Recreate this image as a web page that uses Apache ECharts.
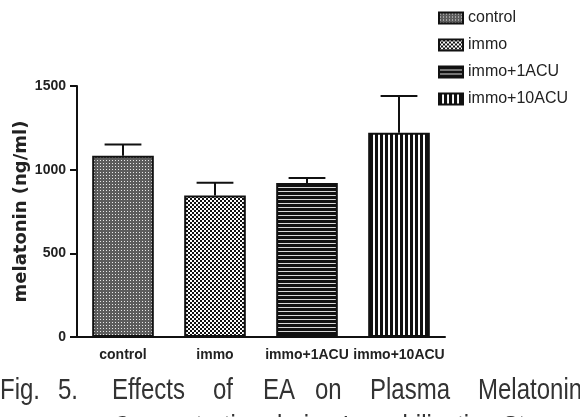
<!DOCTYPE html>
<html>
<head>
<meta charset="utf-8">
<script src="https://cdn.jsdelivr.net/npm/echarts@6/dist/echarts.min.js"></script>
<style>
  html, body { margin: 0; padding: 0; background: #fff; }
  #main { width: 580px; height: 417px; }
</style>
</head>
<body>
<div id="main"></div>
<script>
  // groups on the x axis
  const categories = ['control', 'immo', 'immo+1ACU', 'immo+10ACU'];
  // mean melatonin (ng/ml) and upper error (SEM)
  const meanValues = [1083, 845, 920, 1220];
  const errorValues = [67, 77, 30, 220];
  const yTicks = [0, 500, 1000, 1500];

  // fill patterns, drawn on small canvases
  function makePattern(size, draw) {
    const c = document.createElement('canvas');
    c.width = size[0];
    c.height = size[1];
    const ctx = c.getContext('2d');
    draw(ctx);
    return { image: c, repeat: 'repeat' };
  }
  const patterns = [
    // control: fine gray dots
    makePattern([3, 3], function (ctx) {
      ctx.fillStyle = '#5c5c5c';
      ctx.fillRect(0, 0, 3, 3);
      ctx.fillStyle = '#e8e8e8';
      ctx.fillRect(1, 1, 1, 1);
    }),
    // immo: checkerboard
    makePattern([4, 4], function (ctx) {
      ctx.fillStyle = '#fff';
      ctx.fillRect(0, 0, 4, 4);
      ctx.fillStyle = '#111';
      ctx.fillRect(0, 0, 2, 2);
      ctx.fillRect(2, 2, 2, 2);
    }),
    // immo+1ACU: horizontal lines
    makePattern([4, 4], function (ctx) {
      ctx.fillStyle = '#111';
      ctx.fillRect(0, 0, 4, 4);
      ctx.fillStyle = '#d8d8d8';
      ctx.fillRect(0, 3, 4, 1);
    }),
    // immo+10ACU: vertical lines
    makePattern([5, 5], function (ctx) {
      ctx.fillStyle = '#fff';
      ctx.fillRect(0, 0, 5, 5);
      ctx.fillStyle = '#111';
      ctx.fillRect(0, 0, 3, 5);
    })
  ];

  let myChart = echarts.init(document.getElementById('main'));

  let barSeries = categories.map(function (name, i) {
    return {
      name: name,
      type: 'bar',
      barWidth: '67%',
      barGap: '-100%',
      data: categories.map(function (c, j) { return j === i ? meanValues[i] : '-'; }),
      itemStyle: {
        color: patterns[i],
        borderColor: '#111',
        borderWidth: 2
      },
      z: 2
    };
  });

  // error bars (upper only)
  let errorSeries = {
    name: 'error',
    type: 'custom',
    z: 5,
    data: categories.map(function (c, i) { return [i, meanValues[i], meanValues[i] + errorValues[i]]; }),
    renderItem: function (params, api) {
      let base = api.coord([api.value(0), api.value(1)]);
      let top = api.coord([api.value(0), api.value(2)]);
      let half = api.size([1, 0])[0] * 0.2;
      let st = { stroke: '#111', lineWidth: 2 };
      return {
        type: 'group',
        children: [
          { type: 'line', shape: { x1: base[0], y1: base[1], x2: top[0], y2: top[1] }, style: st },
          { type: 'line', shape: { x1: top[0] - half, y1: top[1], x2: top[0] + half, y2: top[1] }, style: st }
        ]
      };
    }
  };

  // caption below the chart (narrow face imitated with scaleX)
  let captionFont = '"Liberation Sans", Arial, sans-serif';
  let captionWords = [
    ['Fig.', 0], ['5.', 58], ['Effects', 112], ['of', 213], ['EA', 263],
    ['on', 315], ['Plasma', 370], ['Melatonin', 478]
  ];
  let graphics = captionWords.map(function (w) {
    return {
      type: 'text', x: w[1], y: 376, scaleX: 0.8,
      style: { text: w[0], fontFamily: captionFont, fontSize: 30, fill: '#333', verticalAlign: 'top' }
    };
  });
  graphics.push({
    type: 'text', x: 113, y: 413, scaleX: 0.8,
    style: { text: 'Concentration during Immobilization Stress', fontFamily: captionFont, fontSize: 30, fill: '#333', verticalAlign: 'top' }
  });

  let option = {
    animation: false,
    backgroundColor: '#fff',
    grid: {
      left: 77,
      right: 135,
      top: 86,
      bottom: 80,
      outerBoundsMode: 'none'
    },
    legend: {
      data: categories,
      orient: 'vertical',
      left: 433,
      top: 5,
      icon: 'rect',
      itemWidth: 24,
      itemHeight: 11,
      itemGap: 11,
      textStyle: {
        fontFamily: '"Liberation Sans", Arial, sans-serif',
        fontSize: 16,
        color: '#222'
      }
    },
    xAxis: {
      type: 'category',
      data: categories,
      axisLine: { lineStyle: { color: '#111', width: 2 } },
      axisTick: { show: false },
      axisLabel: {
        interval: 0,
        margin: 11,
        fontFamily: '"Liberation Sans", Arial, sans-serif',
        fontWeight: 'bold',
        fontSize: 14,
        color: '#222'
      }
    },
    yAxis: {
      type: 'value',
      min: yTicks[0],
      max: yTicks[yTicks.length - 1],
      interval: yTicks[1] - yTicks[0],
      name: 'melatonin (ng/ml)',
      nameLocation: 'middle',
      nameRotate: 90,
      nameGap: 47,
      nameMoveOverlap: false,
      nameTextStyle: {
        fontFamily: '"DejaVu Sans", sans-serif',
        fontWeight: 'bold',
        fontSize: 18,
        color: '#222'
      },
      axisLine: { show: true, lineStyle: { color: '#111', width: 2 } },
      axisTick: { show: true, length: 7, lineStyle: { color: '#111', width: 2 } },
      splitLine: { show: false },
      axisLabel: {
        margin: 11,
        formatter: function (v) { return String(v); },
        fontFamily: '"Liberation Sans", Arial, sans-serif',
        fontWeight: 'bold',
        fontSize: 14,
        color: '#222'
      }
    },
    graphic: graphics,
    series: barSeries.concat([errorSeries])
  };
  myChart.setOption(option);
</script>
</body>
</html>
